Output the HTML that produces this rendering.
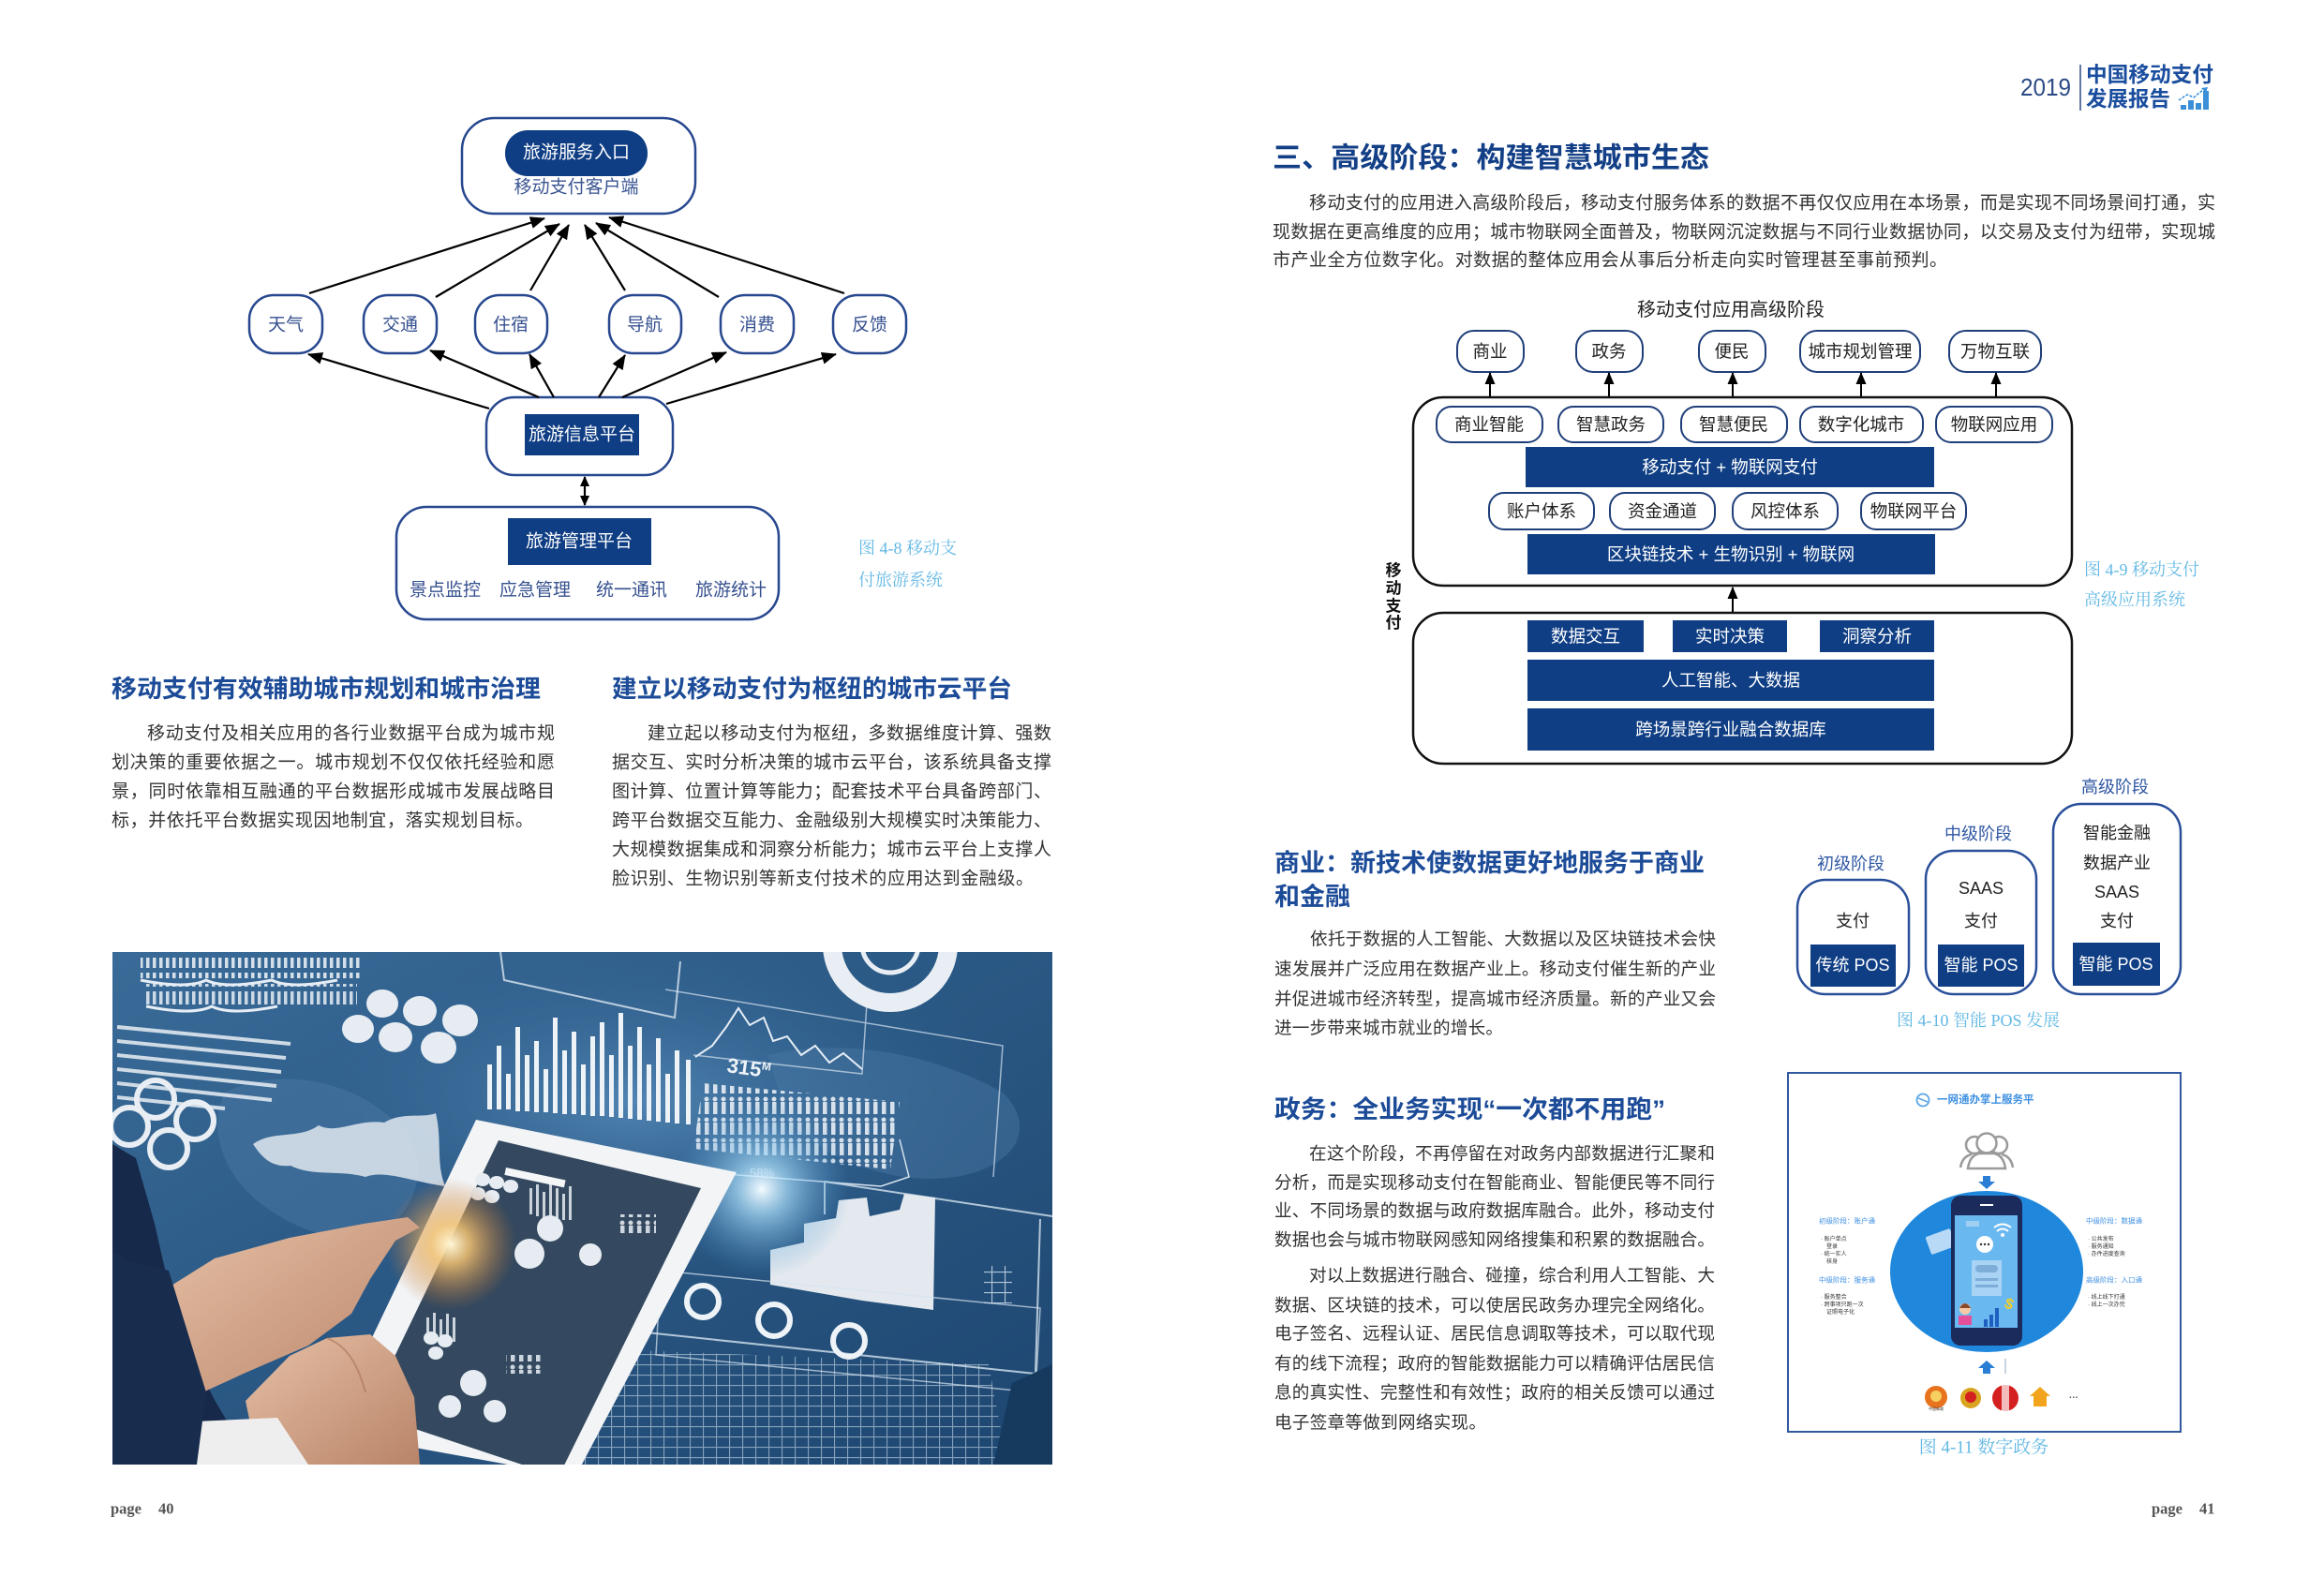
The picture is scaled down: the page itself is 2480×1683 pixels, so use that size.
<!DOCTYPE html>
<html><head><meta charset="utf-8">
<style>
html,body{margin:0;padding:0;background:#fff;}
body{width:2480px;height:1683px;overflow:hidden;position:relative;}
svg{position:absolute;left:0;top:0;}
.s{font-family:"Liberation Sans","Noto Sans CJK SC",sans-serif;}
.sf{font-family:"Liberation Serif","Noto Serif CJK SC",serif;}
</style></head><body>
<svg width="2480" height="1683" viewBox="0 0 2480 1683" xmlns="http://www.w3.org/2000/svg" class="s">
<defs>
<marker id="ah" markerWidth="16" markerHeight="13" refX="15" refY="6.5" orient="auto" markerUnits="userSpaceOnUse"><path d="M0,0 L16,6.5 L0,13 z" fill="#000"/></marker>
<marker id="ahr" markerWidth="11" markerHeight="10" refX="10" refY="5" orient="auto-start-reverse" markerUnits="userSpaceOnUse"><path d="M0,0 L11,5 L0,10 z" fill="#000"/></marker>
<marker id="ah2" markerWidth="13" markerHeight="11" refX="12" refY="5.5" orient="auto" markerUnits="userSpaceOnUse"><path d="M0,0 L13,5.5 L0,11 z" fill="#000"/></marker>
<linearGradient id="bg" x1="0" y1="0" x2="1" y2="1">
<stop offset="0" stop-color="#3a6b98"/><stop offset="0.45" stop-color="#2b5985"/><stop offset="1" stop-color="#1d4670"/></linearGradient>
<radialGradient id="gO" cx="0.5" cy="0.5" r="0.5"><stop offset="0" stop-color="#fff6d8"/><stop offset="0.3" stop-color="#f0c070" stop-opacity="0.85"/><stop offset="1" stop-color="#c07030" stop-opacity="0"/></radialGradient>
<radialGradient id="gB" cx="0.5" cy="0.5" r="0.5"><stop offset="0" stop-color="#f4fbff"/><stop offset="0.3" stop-color="#a8dcf8" stop-opacity="0.7"/><stop offset="1" stop-color="#4a90c8" stop-opacity="0"/></radialGradient>
<radialGradient id="gL" cx="0.5" cy="0.5" r="0.5"><stop offset="0" stop-color="#5a8fbe" stop-opacity="0.8"/><stop offset="1" stop-color="#2a5a88" stop-opacity="0"/></radialGradient>
<linearGradient id="skin" x1="0" y1="0" x2="1" y2="1"><stop offset="0" stop-color="#e6c0a6"/><stop offset="1" stop-color="#b98468"/></linearGradient>
<pattern id="pp" width="7" height="20" patternUnits="userSpaceOnUse"><rect x="1" y="2" width="3.5" height="15" fill="#e6edf4"/></pattern>
<pattern id="pf" width="9" height="22" patternUnits="userSpaceOnUse"><circle cx="4" cy="3" r="2.5" fill="#e8eef5"/><rect x="2" y="6" width="4.5" height="13" fill="#e8eef5"/></pattern>
<pattern id="grid" width="14" height="11" patternUnits="userSpaceOnUse"><path d="M0 0.5H14 M0.5 0V11" stroke="#d8e6f2" stroke-width="1.2"/></pattern>
<clipPath id="pc"><rect x="0" y="0" width="1003" height="547"/></clipPath>
</defs>

<!-- ============ LEFT PAGE: Figure 4-8 ============ -->
<g stroke="#27478f" stroke-width="2.5" fill="#fff">
<rect x="493" y="126" width="249" height="102" rx="34"/>
<rect x="266" y="315" width="78" height="62" rx="26"/>
<rect x="388" y="315" width="78" height="62" rx="26"/>
<rect x="507" y="315" width="77" height="62" rx="26"/>
<rect x="650" y="315" width="77" height="62" rx="26"/>
<rect x="769" y="315" width="78" height="62" rx="26"/>
<rect x="889" y="315" width="78" height="62" rx="26"/>
<rect x="519" y="424" width="199" height="83" rx="30"/>
<rect x="423" y="541" width="408" height="120" rx="32"/>
</g>
<rect x="539" y="139" width="152" height="49" rx="24" fill="#0f3e84"/>
<rect x="560" y="442" width="122" height="44" fill="#0f3e84"/>
<rect x="542" y="553" width="153" height="50" fill="#0f3e84"/>
<g font-size="19" text-anchor="middle" dominant-baseline="central">
<text x="615" y="163" fill="#fff">旅游服务入口</text>
<text x="615" y="200" fill="#3a5592">移动支付客户端</text>
<text x="621" y="464" fill="#fff">旅游信息平台</text>
<text x="618" y="578" fill="#fff">旅游管理平台</text>
<g fill="#35508f">
<text x="305" y="347">天气</text>
<text x="427" y="347">交通</text>
<text x="545" y="347">住宿</text>
<text x="688" y="347">导航</text>
<text x="808" y="347">消费</text>
<text x="928" y="347">反馈</text>
<text x="475" y="630">景点监控</text>
<text x="571" y="630">应急管理</text>
<text x="674" y="630">统一通讯</text>
<text x="780" y="630">旅游统计</text>
</g>
</g>
<g stroke="#000" stroke-width="2.2" marker-end="url(#ah)">
<line x1="330" y1="313" x2="581" y2="233"/>
<line x1="465" y1="317" x2="597" y2="239"/>
<line x1="566" y1="310" x2="607" y2="240"/>
<line x1="667" y1="310" x2="624" y2="240"/>
<line x1="767" y1="317" x2="636" y2="238"/>
<line x1="901" y1="313" x2="650" y2="232"/>
<line x1="522" y1="436" x2="329" y2="378"/>
<line x1="575" y1="424" x2="459" y2="374"/>
<line x1="591" y1="424" x2="565" y2="378"/>
<line x1="639" y1="424" x2="667" y2="379"/>
<line x1="664" y1="424" x2="775" y2="376"/>
<line x1="711" y1="431" x2="892" y2="378"/>
</g>
<line x1="624" y1="509" x2="624" y2="539" stroke="#000" stroke-width="2.2" marker-end="url(#ahr)" marker-start="url(#ahr)"/>
<g class="sf" font-size="18" fill="#62b8e4">
<text x="916" y="591">图 4-8 移动支</text>
<text x="916" y="625">付旅游系统</text>
</g>

<!-- Left headings -->
<g font-size="26" font-weight="bold" fill="#1c4b98" dominant-baseline="central">
<text x="119" y="735" textLength="458" lengthAdjust="spacingAndGlyphs">移动支付有效辅助城市规划和城市治理</text>
<text x="653" y="735" textLength="427" lengthAdjust="spacingAndGlyphs">建立以移动支付为枢纽的城市云平台</text>
</g>
<!-- Left body -->
<g font-size="19" fill="#333" dominant-baseline="central">
<text x="157" y="783" textLength="435" lengthAdjust="spacing">移动支付及相关应用的各行业数据平台成为城市规</text>
<text x="119" y="814" textLength="473" lengthAdjust="spacing">划决策的重要依据之一。城市规划不仅仅依托经验和愿</text>
<text x="119" y="845" textLength="473" lengthAdjust="spacing">景，同时依靠相互融通的平台数据形成城市发展战略目</text>
<text x="119" y="876" textLength="450" lengthAdjust="spacing">标，并依托平台数据实现因地制宜，落实规划目标。</text>
<text x="691" y="783" textLength="431" lengthAdjust="spacing">建立起以移动支付为枢纽，多数据维度计算、强数</text>
<text x="653" y="814" textLength="469" lengthAdjust="spacing">据交互、实时分析决策的城市云平台，该系统具备支撑</text>
<text x="653" y="845" textLength="469" lengthAdjust="spacing">图计算、位置计算等能力；配套技术平台具备跨部门、</text>
<text x="653" y="876" textLength="469" lengthAdjust="spacing">跨平台数据交互能力、金融级别大规模实时决策能力、</text>
<text x="653" y="907" textLength="469" lengthAdjust="spacing">大规模数据集成和洞察分析能力；城市云平台上支撑人</text>
<text x="653" y="938" textLength="450" lengthAdjust="spacing">脸识别、生物识别等新支付技术的应用达到金融级。</text>
</g>

<!-- Photo -->
<g transform="translate(120,1016)" clip-path="url(#pc)">
<rect x="0" y="0" width="1003" height="547" fill="url(#bg)"/>
<ellipse cx="560" cy="160" rx="420" ry="190" fill="url(#gL)"/>
<path d="M120,150 C180,120 260,140 300,180 C340,210 330,260 300,290 C260,320 200,300 160,270 C120,240 100,190 120,150 Z" fill="#4a78a3" opacity="0.5"/>
<path d="M700,110 C780,90 880,110 950,150 C990,190 960,230 900,240 C830,250 760,220 720,180 Z" fill="#4a78a3" opacity="0.45"/>
<rect x="30" y="6" width="235" height="22" fill="url(#pp)" opacity="0.9"/>
<rect x="36" y="34" width="225" height="22" fill="url(#pp)" opacity="0.85"/>
<path d="M30,30 q50,10 70,0 q20,10 70,0 q20,10 70,0 M36,58 q50,10 70,0 q20,10 70,0" stroke="#e6edf4" stroke-width="3" fill="none"/>
<g stroke="#dfe8f0" stroke-width="4" opacity="0.9">
<line x1="5" y1="80" x2="190" y2="98"/><line x1="5" y1="95" x2="185" y2="113"/><line x1="5" y1="110" x2="180" y2="128"/>
<line x1="5" y1="125" x2="175" y2="143"/><line x1="5" y1="140" x2="170" y2="158"/><line x1="5" y1="155" x2="120" y2="167"/>
</g>
<g fill="none" stroke="#e8eef3" stroke-width="6">
<circle cx="46" cy="157" r="20"/><circle cx="18" cy="186" r="20"/><circle cx="88" cy="180" r="20"/><circle cx="60" cy="210" r="20"/>
</g>
<g fill="#e6ecf2">
<ellipse cx="288" cy="55" rx="17" ry="15"/><ellipse cx="328" cy="63" rx="18" ry="16"/><ellipse cx="371" cy="73" rx="19" ry="17"/>
<ellipse cx="262" cy="82" rx="17" ry="15"/><ellipse cx="302" cy="91" rx="18" ry="16"/><ellipse cx="348" cy="102" rx="19" ry="17"/>
</g>
<path d="M414,0 L418,30 L600,70 L606,10" fill="none" stroke="#dbe6f0" stroke-width="2" opacity="0.8"/>
<g fill="#eef3f8">
<rect x="400" y="120" width="5" height="48"/><rect x="410" y="100" width="5" height="68"/><rect x="420" y="130" width="5" height="38"/>
<rect x="430" y="80" width="5" height="90"/><rect x="440" y="110" width="5" height="60"/><rect x="450" y="95" width="5" height="76"/>
<rect x="460" y="125" width="5" height="46"/><rect x="470" y="70" width="5" height="102"/><rect x="480" y="105" width="5" height="68"/>
<rect x="490" y="85" width="5" height="88"/><rect x="500" y="120" width="5" height="54"/><rect x="510" y="90" width="5" height="85"/>
<rect x="520" y="75" width="5" height="100"/><rect x="530" y="110" width="5" height="66"/><rect x="540" y="65" width="5" height="112"/>
<rect x="550" y="100" width="5" height="78"/><rect x="560" y="80" width="5" height="99"/><rect x="570" y="120" width="5" height="60"/>
<rect x="580" y="92" width="5" height="89"/><rect x="590" y="130" width="5" height="52"/><rect x="600" y="105" width="5" height="78"/>
<rect x="612" y="115" width="5" height="69"/>
</g>
<polyline points="622,112 640,100 655,80 668,60 680,78 695,70 705,95 720,90 735,110 750,100 765,118 780,108 800,125" fill="none" stroke="#e6eef6" stroke-width="2"/>
<path d="M620,110 L800,130 L805,55 M590,40 L950,100 L940,240" fill="none" stroke="#d6e3ef" stroke-width="1.5" opacity="0.7"/>
<circle cx="830" cy="-8" r="62" fill="none" stroke="#e8eef4" stroke-width="20"/>
<circle cx="830" cy="-8" r="30" fill="none" stroke="#e8eef4" stroke-width="5"/>
<text x="655" y="128" font-size="22" font-weight="bold" fill="#eef3f8" transform="rotate(8 655 128)">315<tspan font-size="12" dy="-8">M</tspan></text>
<polygon points="630,140 840,160 830,232 620,210" fill="url(#pf)" opacity="0.9"/>
<path d="M630,235 L820,250 L850,240 L840,200" fill="none" stroke="#d6e3ef" stroke-width="1.5"/>
<path d="M150,205 C170,190 200,200 220,185 C240,195 260,178 290,182 C310,170 330,178 345,172 C352,200 345,225 355,250 C320,245 290,232 270,240 C240,232 215,240 190,228 C170,230 160,220 150,205 Z" fill="#dfe8f0" opacity="0.85"/>
<path d="M760,245 L1003,282 M760,245 L760,280 M990,285 L985,450 L560,405" fill="none" stroke="#d6e3ef" stroke-width="2" opacity="0.8"/>
<polygon points="702,318 738,310 738,290 772,284 775,265 805,262 808,282 840,275 845,258 878,262 876,382 800,372 702,355" fill="#e3e9ef"/>
<g fill="none" stroke="#eef3f8" stroke-width="6">
<circle cx="630" cy="373" r="17"/><circle cx="706" cy="393" r="17"/><circle cx="786" cy="415" r="17"/>
</g>
<path d="M585,340 L990,380 L985,470 L580,430 Z" fill="none" stroke="#d6e3ef" stroke-width="1.5" opacity="0.7"/>
<rect x="930" y="335" width="30" height="40" fill="url(#grid)" opacity="0.8"/>
<text x="680" y="240" font-size="13" fill="#dfe9f2" opacity="0.8">58%</text>
<polygon points="430,420 935,440 955,547 415,547" fill="url(#grid)" opacity="0.55"/>
<polygon points="960,460 1003,440 1003,547 940,547" fill="#163a5e"/>
<circle cx="693" cy="253" r="95" fill="url(#gB)"/>
<path d="M0,205 L25,220 L45,290 L70,400 L110,480 L150,547 L0,547 Z" fill="#16294a"/>
<polygon points="388,179 666,235 494,560 229,512" fill="#f2f4f6"/>
<polygon points="412,201 628,252 476,560 272,492" fill="#34495f"/>
<g fill="#e6ecf2">
<ellipse cx="395" cy="243" rx="8" ry="7"/><ellipse cx="410" cy="246" rx="8" ry="7"/><ellipse cx="425" cy="250" rx="8" ry="7"/>
<ellipse cx="390" cy="258" rx="8" ry="7"/><ellipse cx="405" cy="261" rx="8" ry="7"/>
<circle cx="467" cy="295" r="14"/><circle cx="445" cy="322" r="16"/><circle cx="510" cy="323" r="12"/>
<ellipse cx="340" cy="412" rx="8" ry="7"/><ellipse cx="355" cy="415" rx="8" ry="7"/><ellipse cx="345" cy="428" rx="8" ry="7"/>
<circle cx="385" cy="460" r="14"/><circle cx="360" cy="485" r="12"/><circle cx="408" cy="490" r="12"/>
</g>
<g fill="#e6ecf2" opacity="0.85">
<rect x="445" y="252" width="3" height="28"/><rect x="452" y="248" width="3" height="34"/><rect x="459" y="256" width="3" height="28"/><rect x="466" y="246" width="3" height="38"/><rect x="473" y="252" width="3" height="32"/><rect x="480" y="258" width="3" height="28"/><rect x="487" y="250" width="3" height="36"/>
<rect x="335" y="390" width="3" height="22"/><rect x="342" y="385" width="3" height="28"/><rect x="349" y="392" width="3" height="22"/><rect x="356" y="386" width="3" height="30"/><rect x="363" y="390" width="3" height="26"/>
<rect x="540" y="280" width="40" height="20" fill="url(#pf)"/><rect x="420" y="430" width="40" height="20" fill="url(#pf)"/>
</g>
<rect x="420" y="230" width="65" height="8" fill="#f4f6f8" transform="rotate(12 420 230)"/>
<circle cx="361" cy="312" r="70" fill="url(#gO)"/>
<polygon points="50,364 109,327 189,305 268,290 315,283 328,294 302,308 275,349 255,386 209,420 142,449 70,482 50,438" fill="url(#skin)"/>
<polygon points="142,479 189,431 229,412 275,408 302,431 322,475 328,547 156,547" fill="url(#skin)"/>
<path d="M229,412 C250,420 262,440 270,470" stroke="#a87358" stroke-width="2" fill="none" opacity="0.6"/>
<polygon points="89,501 176,497 209,547 89,547" fill="#eeeeee"/>
<path d="M20,330 L60,340 L100,470 L90,547 L0,547 L0,320 Z" fill="#182c4e"/>
</g>

<!-- Footers -->
<g class="sf" font-size="16.5" font-weight="bold" fill="#555" dominant-baseline="central">
<text x="118" y="1610">page</text><text x="169" y="1610">40</text>
<text x="2296" y="1610">page</text><text x="2347" y="1610">41</text>
</g>

<!-- ============ RIGHT PAGE ============ -->
<text x="2156" y="93" font-size="26" fill="#2b4a85" dominant-baseline="central" textLength="54" lengthAdjust="spacingAndGlyphs">2019</text>
<line x1="2220" y1="69" x2="2220" y2="118" stroke="#2b4a85" stroke-width="1.5"/>
<g font-size="22.5" font-weight="bold" fill="#1a4d9e" dominant-baseline="central">
<text x="2226" y="80" textLength="136" lengthAdjust="spacingAndGlyphs">中国移动支付</text>
<text x="2226" y="106" textLength="90" lengthAdjust="spacingAndGlyphs">发展报告</text>
</g>
<g fill="#3b8fd8">
<rect x="2327" y="112" width="6" height="5"/><rect x="2335" y="107" width="6" height="10"/><rect x="2343" y="110" width="6" height="7"/><rect x="2351" y="97" width="6" height="20"/>
</g>
<path d="M2325,107 L2334,101 L2341,104 L2352,95" stroke="#3b8fd8" stroke-width="1.6" fill="none" stroke-dasharray="3,1.5"/>
<path d="M2349,94 L2356,93 L2354,99 Z" fill="#3b8fd8"/>

<text x="1358" y="169" font-size="30" font-weight="bold" fill="#133f86" dominant-baseline="central" textLength="466" lengthAdjust="spacingAndGlyphs">三、高级阶段：构建智慧城市生态</text>
<g font-size="19" fill="#333" dominant-baseline="central">
<text x="1397" y="217" textLength="967" lengthAdjust="spacing">移动支付的应用进入高级阶段后，移动支付服务体系的数据不再仅仅应用在本场景，而是实现不同场景间打通，实</text>
<text x="1358" y="248" textLength="1006" lengthAdjust="spacing">现数据在更高维度的应用；城市物联网全面普及，物联网沉淀数据与不同行业数据协同，以交易及支付为纽带，实现城</text>
<text x="1358" y="278" textLength="720" lengthAdjust="spacing">市产业全方位数字化。对数据的整体应用会从事后分析走向实时管理甚至事前预判。</text>
</g>

<!-- Figure 4-9 -->
<text x="1847" y="331" font-size="20" fill="#222" text-anchor="middle" dominant-baseline="central">移动支付应用高级阶段</text>
<g stroke="#1f3f7a" stroke-width="2" fill="#fff">
<rect x="1555" y="353" width="71" height="44" rx="18"/>
<rect x="1682" y="353" width="71" height="44" rx="18"/>
<rect x="1813" y="353" width="71" height="44" rx="18"/>
<rect x="1921" y="353" width="128" height="44" rx="18"/>
<rect x="2080" y="353" width="98" height="44" rx="18"/>
</g>
<g stroke="#111" stroke-width="2.5" fill="#fff">
<rect x="1508" y="424" width="703" height="201" rx="32"/>
<rect x="1508" y="654" width="703" height="161" rx="32"/>
</g>
<g stroke="#1f3f7a" stroke-width="2" fill="#fff">
<rect x="1533" y="434" width="113" height="38" rx="16"/>
<rect x="1663" y="434" width="112" height="38" rx="16"/>
<rect x="1794" y="434" width="113" height="38" rx="16"/>
<rect x="1921" y="434" width="131" height="38" rx="16"/>
<rect x="2066" y="434" width="124" height="38" rx="16"/>
<rect x="1589" y="526" width="112" height="39" rx="16"/>
<rect x="1718" y="526" width="112" height="39" rx="16"/>
<rect x="1849" y="526" width="112" height="39" rx="16"/>
<rect x="1986" y="526" width="112" height="39" rx="16"/>
</g>
<g fill="#0f3e84">
<rect x="1628" y="477" width="436" height="43"/>
<rect x="1630" y="570" width="435" height="43"/>
<rect x="1630" y="662" width="124" height="34"/>
<rect x="1785" y="662" width="122" height="34"/>
<rect x="1942" y="662" width="122" height="34"/>
<rect x="1630" y="704" width="434" height="44"/>
<rect x="1630" y="756" width="434" height="45"/>
</g>
<g stroke="#000" stroke-width="2" marker-end="url(#ah2)">
<line x1="1590" y1="423" x2="1590" y2="398"/>
<line x1="1717" y1="423" x2="1717" y2="398"/>
<line x1="1849" y1="423" x2="1849" y2="398"/>
<line x1="1986" y1="423" x2="1986" y2="398"/>
<line x1="2130" y1="423" x2="2130" y2="398"/>
<line x1="1849" y1="653" x2="1849" y2="627"/>
</g>
<g font-size="18.5" fill="#222" text-anchor="middle" dominant-baseline="central">
<text x="1590" y="375">商业</text>
<text x="1717" y="375">政务</text>
<text x="1848" y="375">便民</text>
<text x="1985" y="375">城市规划管理</text>
<text x="2129" y="375">万物互联</text>
<text x="1589" y="453">商业智能</text>
<text x="1719" y="453">智慧政务</text>
<text x="1850" y="453">智慧便民</text>
<text x="1986" y="453">数字化城市</text>
<text x="2128" y="453">物联网应用</text>
<text x="1645" y="545.5">账户体系</text>
<text x="1774" y="545.5">资金通道</text>
<text x="1905" y="545.5">风控体系</text>
<text x="2042" y="545.5">物联网平台</text>
</g>
<g font-size="18.5" fill="#fff" text-anchor="middle" dominant-baseline="central">
<text x="1846" y="498.5">移动支付 + 物联网支付</text>
<text x="1847" y="591.5">区块链技术 + 生物识别 + 物联网</text>
<text x="1692" y="679">数据交互</text>
<text x="1846" y="679">实时决策</text>
<text x="2003" y="679">洞察分析</text>
<text x="1847" y="726">人工智能、大数据</text>
<text x="1847" y="778.5">跨场景跨行业融合数据库</text>
</g>
<g font-size="17" font-weight="bold" fill="#111" text-anchor="middle" dominant-baseline="central">
<text x="1487" y="609">移</text><text x="1487" y="628">动</text><text x="1487" y="647">支</text><text x="1487" y="665">付</text>
</g>
<g class="sf" font-size="18" fill="#62b8e4">
<text x="2224" y="614">图 4-9 移动支付</text>
<text x="2224" y="646">高级应用系统</text>
</g>

<!-- 商业 section -->
<g font-size="26.5" font-weight="bold" fill="#1c4b98" dominant-baseline="central">
<text x="1360" y="921" textLength="459" lengthAdjust="spacingAndGlyphs">商业：新技术使数据更好地服务于商业</text>
<text x="1360" y="957" textLength="81" lengthAdjust="spacingAndGlyphs">和金融</text>
</g>
<g font-size="18.6" fill="#333" dominant-baseline="central">
<text x="1398" y="1002" textLength="433" lengthAdjust="spacing">依托于数据的人工智能、大数据以及区块链技术会快</text>
<text x="1360" y="1034" textLength="471" lengthAdjust="spacing">速发展并广泛应用在数据产业上。移动支付催生新的产业</text>
<text x="1360" y="1066" textLength="471" lengthAdjust="spacing">并促进城市经济转型，提高城市经济质量。新的产业又会</text>
<text x="1360" y="1097" textLength="244" lengthAdjust="spacing">进一步带来城市就业的增长。</text>
</g>

<!-- POS figure -->
<g stroke="#2a4f9a" stroke-width="2.5" fill="#fff">
<rect x="1918" y="939" width="119" height="122" rx="30"/>
<rect x="2055" y="908" width="118" height="153" rx="30"/>
<rect x="2191" y="858" width="136" height="203" rx="30"/>
</g>
<g fill="#0f3e84">
<rect x="1932" y="1008" width="91" height="45"/>
<rect x="2068" y="1008" width="92" height="45"/>
<rect x="2212" y="1006" width="93" height="46"/>
</g>
<g font-size="18" text-anchor="middle" dominant-baseline="central">
<g fill="#fff">
<text x="1977" y="1030">传统 POS</text><text x="2114" y="1030">智能 POS</text><text x="2258" y="1029">智能 POS</text>
</g>
<g fill="#222">
<text x="1977" y="983">支付</text><text x="2114" y="983">支付</text><text x="2259" y="983">支付</text>
<text x="2114" y="948">SAAS</text><text x="2259" y="952">SAAS</text>
<text x="2259" y="921">数据产业</text><text x="2259" y="889">智能金融</text>
</g>
<g fill="#2f57a3">
<text x="1975" y="922">初级阶段</text><text x="2111" y="890">中级阶段</text><text x="2257" y="840">高级阶段</text>
</g>
</g>
<text class="sf" x="2111" y="1089" font-size="18" fill="#62b8e4" text-anchor="middle" dominant-baseline="central">图 4-10 智能 POS 发展</text>

<!-- 政务 section -->
<text x="1360" y="1184" font-size="26.5" font-weight="bold" fill="#1c4b98" dominant-baseline="central" textLength="417" lengthAdjust="spacingAndGlyphs">政务：全业务实现“一次都不用跑”</text>
<g font-size="18.6" fill="#333" dominant-baseline="central">
<text x="1397" y="1231" textLength="433" lengthAdjust="spacing">在这个阶段，不再停留在对政务内部数据进行汇聚和</text>
<text x="1360" y="1262" textLength="470" lengthAdjust="spacing">分析，而是实现移动支付在智能商业、智能便民等不同行</text>
<text x="1360" y="1292" textLength="470" lengthAdjust="spacing">业、不同场景的数据与政府数据库融合。此外，移动支付</text>
<text x="1360" y="1323" textLength="470" lengthAdjust="spacing">数据也会与城市物联网感知网络搜集和积累的数据融合。</text>
<text x="1397" y="1361" textLength="433" lengthAdjust="spacing">对以上数据进行融合、碰撞，综合利用人工智能、大</text>
<text x="1360" y="1393" textLength="470" lengthAdjust="spacing">数据、区块链的技术，可以使居民政务办理完全网络化。</text>
<text x="1360" y="1423" textLength="470" lengthAdjust="spacing">电子签名、远程认证、居民信息调取等技术，可以取代现</text>
<text x="1360" y="1455" textLength="470" lengthAdjust="spacing">有的线下流程；政府的智能数据能力可以精确评估居民信</text>
<text x="1360" y="1486" textLength="470" lengthAdjust="spacing">息的真实性、完整性和有效性；政府的相关反馈可以通过</text>
<text x="1360" y="1518" textLength="226" lengthAdjust="spacing">电子签章等做到网络实现。</text>
</g>

<!-- Figure 4-11 -->
<rect x="1908" y="1145" width="419" height="383" fill="#fff" stroke="#3159a0" stroke-width="2"/>
<circle cx="2052" cy="1174" r="6.5" fill="none" stroke="#5aa6e6" stroke-width="1.8"/>
<path d="M2047,1172 L2057,1176" stroke="#5aa6e6" stroke-width="1.5"/>
<text x="2067" y="1174" font-size="11.5" font-weight="bold" fill="#3d8fe0" dominant-baseline="central">一网通办掌上服务平</text>
<g fill="none" stroke="#9a9a9a" stroke-width="2.5">
<circle cx="2107" cy="1222" r="9"/><circle cx="2133" cy="1222" r="9"/>
<path d="M2092,1246 q2,-12 12,-14 M2148,1246 q-2,-12 -12,-14"/>
<circle cx="2120" cy="1220" r="10.5" fill="#fff"/>
<path d="M2100,1247 q2,-14 12,-16 h16 q10,2 12,16 z" fill="#fff"/>
</g>
<path d="M2116,1255 h8 v6 h5 l-9,8 l-9,-8 h5 z" fill="#2a7fd4"/>
<ellipse cx="2120" cy="1357" rx="103" ry="86" fill="#1f87dc"/>
<rect x="2057" y="1315" width="28" height="20" rx="2" fill="#b8daf6" transform="rotate(-20 2071 1325)"/>
<rect x="2082" y="1276" width="76" height="160" rx="10" fill="#1b2b5c"/>
<rect x="2086" y="1297" width="67" height="120" fill="#6ab8f0"/>
<line x1="2113" y1="1286" x2="2127" y2="1286" stroke="#fff" stroke-width="2"/>
<path d="M2128,1310 q9,-7 18,0 M2131,1314 q6,-5 12,0" stroke="#fff" stroke-width="2" fill="none"/>
<circle cx="2137" cy="1318" r="2" fill="#fff"/>
<rect x="2098" y="1303" width="14" height="6" fill="#9fd0f4"/>
<circle cx="2118" cy="1328" r="9" fill="#fff"/>
<g fill="#333"><circle cx="2114" cy="1328" r="1.2"/><circle cx="2118" cy="1328" r="1.2"/><circle cx="2122" cy="1328" r="1.2"/></g>
<rect x="2104" y="1345" width="32" height="38" fill="#a9d3f5"/>
<rect x="2108" y="1350" width="24" height="8" rx="4" fill="#7eaed8"/>
<rect x="2108" y="1364" width="24" height="3" fill="#7eaed8"/><rect x="2108" y="1371" width="24" height="3" fill="#7eaed8"/>
<circle cx="2097" cy="1397" r="6" fill="#f4c9a8"/><path d="M2091,1396 q6,-10 12,0" fill="#8b4a2b"/>
<rect x="2090" y="1404" width="14" height="10" fill="#e54f9a"/>
<rect x="2117" y="1408" width="4" height="8" fill="#1f5fc0"/><rect x="2123" y="1403" width="4" height="13" fill="#1f5fc0"/><rect x="2129" y="1396" width="4" height="20" fill="#1f5fc0"/>
<text x="2138" y="1395" font-size="16" font-weight="bold" fill="#f2d024" transform="rotate(20 2138 1395)">$</text>
<g font-size="7.5" fill="#3d8fe0" dominant-baseline="central">
<text x="1941" y="1303">初级阶段：账户通</text><text x="1941" y="1366">中级阶段：服务通</text>
<text x="2226" y="1303">中级阶段：数据通</text><text x="2226" y="1366">高级阶段：入口通</text>
</g>
<g font-size="6" fill="#333" dominant-baseline="central">
<text x="1943" y="1323">· 账户单点</text><text x="1949" y="1331">登录</text>
<text x="1943" y="1339">· 统一实人</text><text x="1949" y="1347">核身</text>
<text x="1943" y="1385">· 服务整合</text><text x="1943" y="1393">· 跨事项只跑一次</text><text x="1949" y="1401">证照电子化</text>
<text x="2228" y="1323">· 公共发布</text><text x="2228" y="1331">· 服务通知</text><text x="2228" y="1339">· 办件进度查询</text>
<text x="2228" y="1385">· 线上线下打通</text><text x="2228" y="1393">· 线上一次办完</text>
</g>
<path d="M2116,1466 v-6 h-5 l9,-8 l9,8 h-5 v6 z" fill="#2a7fd4"/>
<rect x="2139" y="1450" width="2" height="16" fill="#c8d4e0"/>
<circle cx="2066" cy="1491" r="12" fill="#e8731e"/><circle cx="2066" cy="1490" r="6" fill="#f6d060"/>
<text x="2066" y="1505" font-size="4" text-anchor="middle" fill="#333">中国邮政</text>
<circle cx="2103" cy="1492" r="11" fill="#d9a520"/><circle cx="2103" cy="1491" r="6" fill="#d42020"/>
<circle cx="2140" cy="1492" r="14" fill="#d42020"/><rect x="2136" y="1478" width="8" height="28" fill="#fff" opacity="0.7"/>
<path d="M2177,1480 l11,10 h-4 v11 h-14 v-11 h-4 z" fill="#f2a51c"/>
<text x="2208" y="1492" font-size="10" font-weight="bold" fill="#555" dominant-baseline="central">···</text>
<text class="sf" x="2117" y="1545" font-size="19" fill="#62b8e4" text-anchor="middle" dominant-baseline="central">图 4-11 数字政务</text>
</svg>
</body></html>
